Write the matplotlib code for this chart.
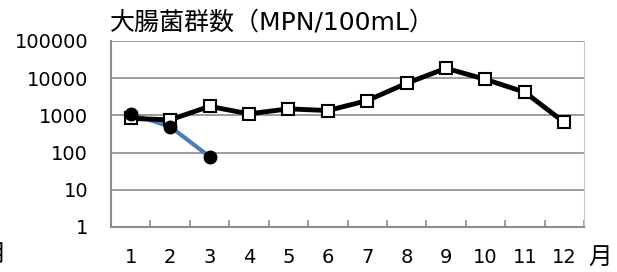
import matplotlib.pyplot as plt

plt.rcParams['font.family'] = ['DejaVu Sans', 'Noto Sans CJK JP']

months = list(range(1, 13))
month_labels = [str(m) for m in months]
coliform = [830, 760, 1750, 1100, 1500, 1350, 2500, 7300, 18500, 9300, 4200, 650]
months_b = [1, 2, 3]
coliform_b = [1100, 500, 78]
y_ticks = [1, 10, 100, 1000, 10000, 100000]

fig = plt.figure(figsize=(6.17, 2.72), dpi=100)
ax = fig.add_axes([111 / 617, 1 - 227 / 272, (584 - 111) / 617, (227 - 41) / 272])

ax.plot(months_b, coliform_b, color='#4a7ebb', lw=3, zorder=3)
ax.plot(months, coliform, color='black', lw=3.5, marker='s', ms=8,
        mfc='white', mec='black', mew=1.5, zorder=4)
ax.plot(months_b, coliform_b, ls='none', marker='o', ms=9, color='black', zorder=5)

ax.set_yscale('log')
ax.set_ylim(1, 100000)
ax.set_xlim(0.5, 12.5)
ax.set_yticks(y_ticks)
ax.set_yticklabels([str(v) for v in y_ticks])
ax.yaxis.set_minor_locator(plt.NullLocator())
ax.tick_params(axis='y', length=0, labelsize=14, pad=16.5)
ax.grid(axis='y', color='#8c8c8c', lw=1.2)

ax.set_xticks(months)
ax.set_xticklabels(month_labels)
ax.tick_params(axis='x', length=0, labelsize=14, pad=15)
ax.set_xticks([m + 0.5 for m in months], minor=True)
ax.tick_params(axis='x', which='minor', direction='in', length=5, color='#8c8c8c', width=1.2)

for s in ['left', 'bottom']:
    ax.spines[s].set_color('#8c8c8c')
    ax.spines[s].set_linewidth(1.5)
ax.spines['top'].set_visible(False)
ax.spines['right'].set_color('#c8c8c8')

fig.text(110 / 617, 1 - 23 / 272, '大腸菌群数（MPN/100mL）', fontsize=18, va='center', ha='left')
fig.text(588 / 617, 1 - 257 / 272, '月', fontsize=17, va='center', ha='left')
fig.text(-18 / 617, 1 - 254 / 272, '月', fontsize=17, va='center', ha='left')

fig.savefig('out.png', dpi=100)
